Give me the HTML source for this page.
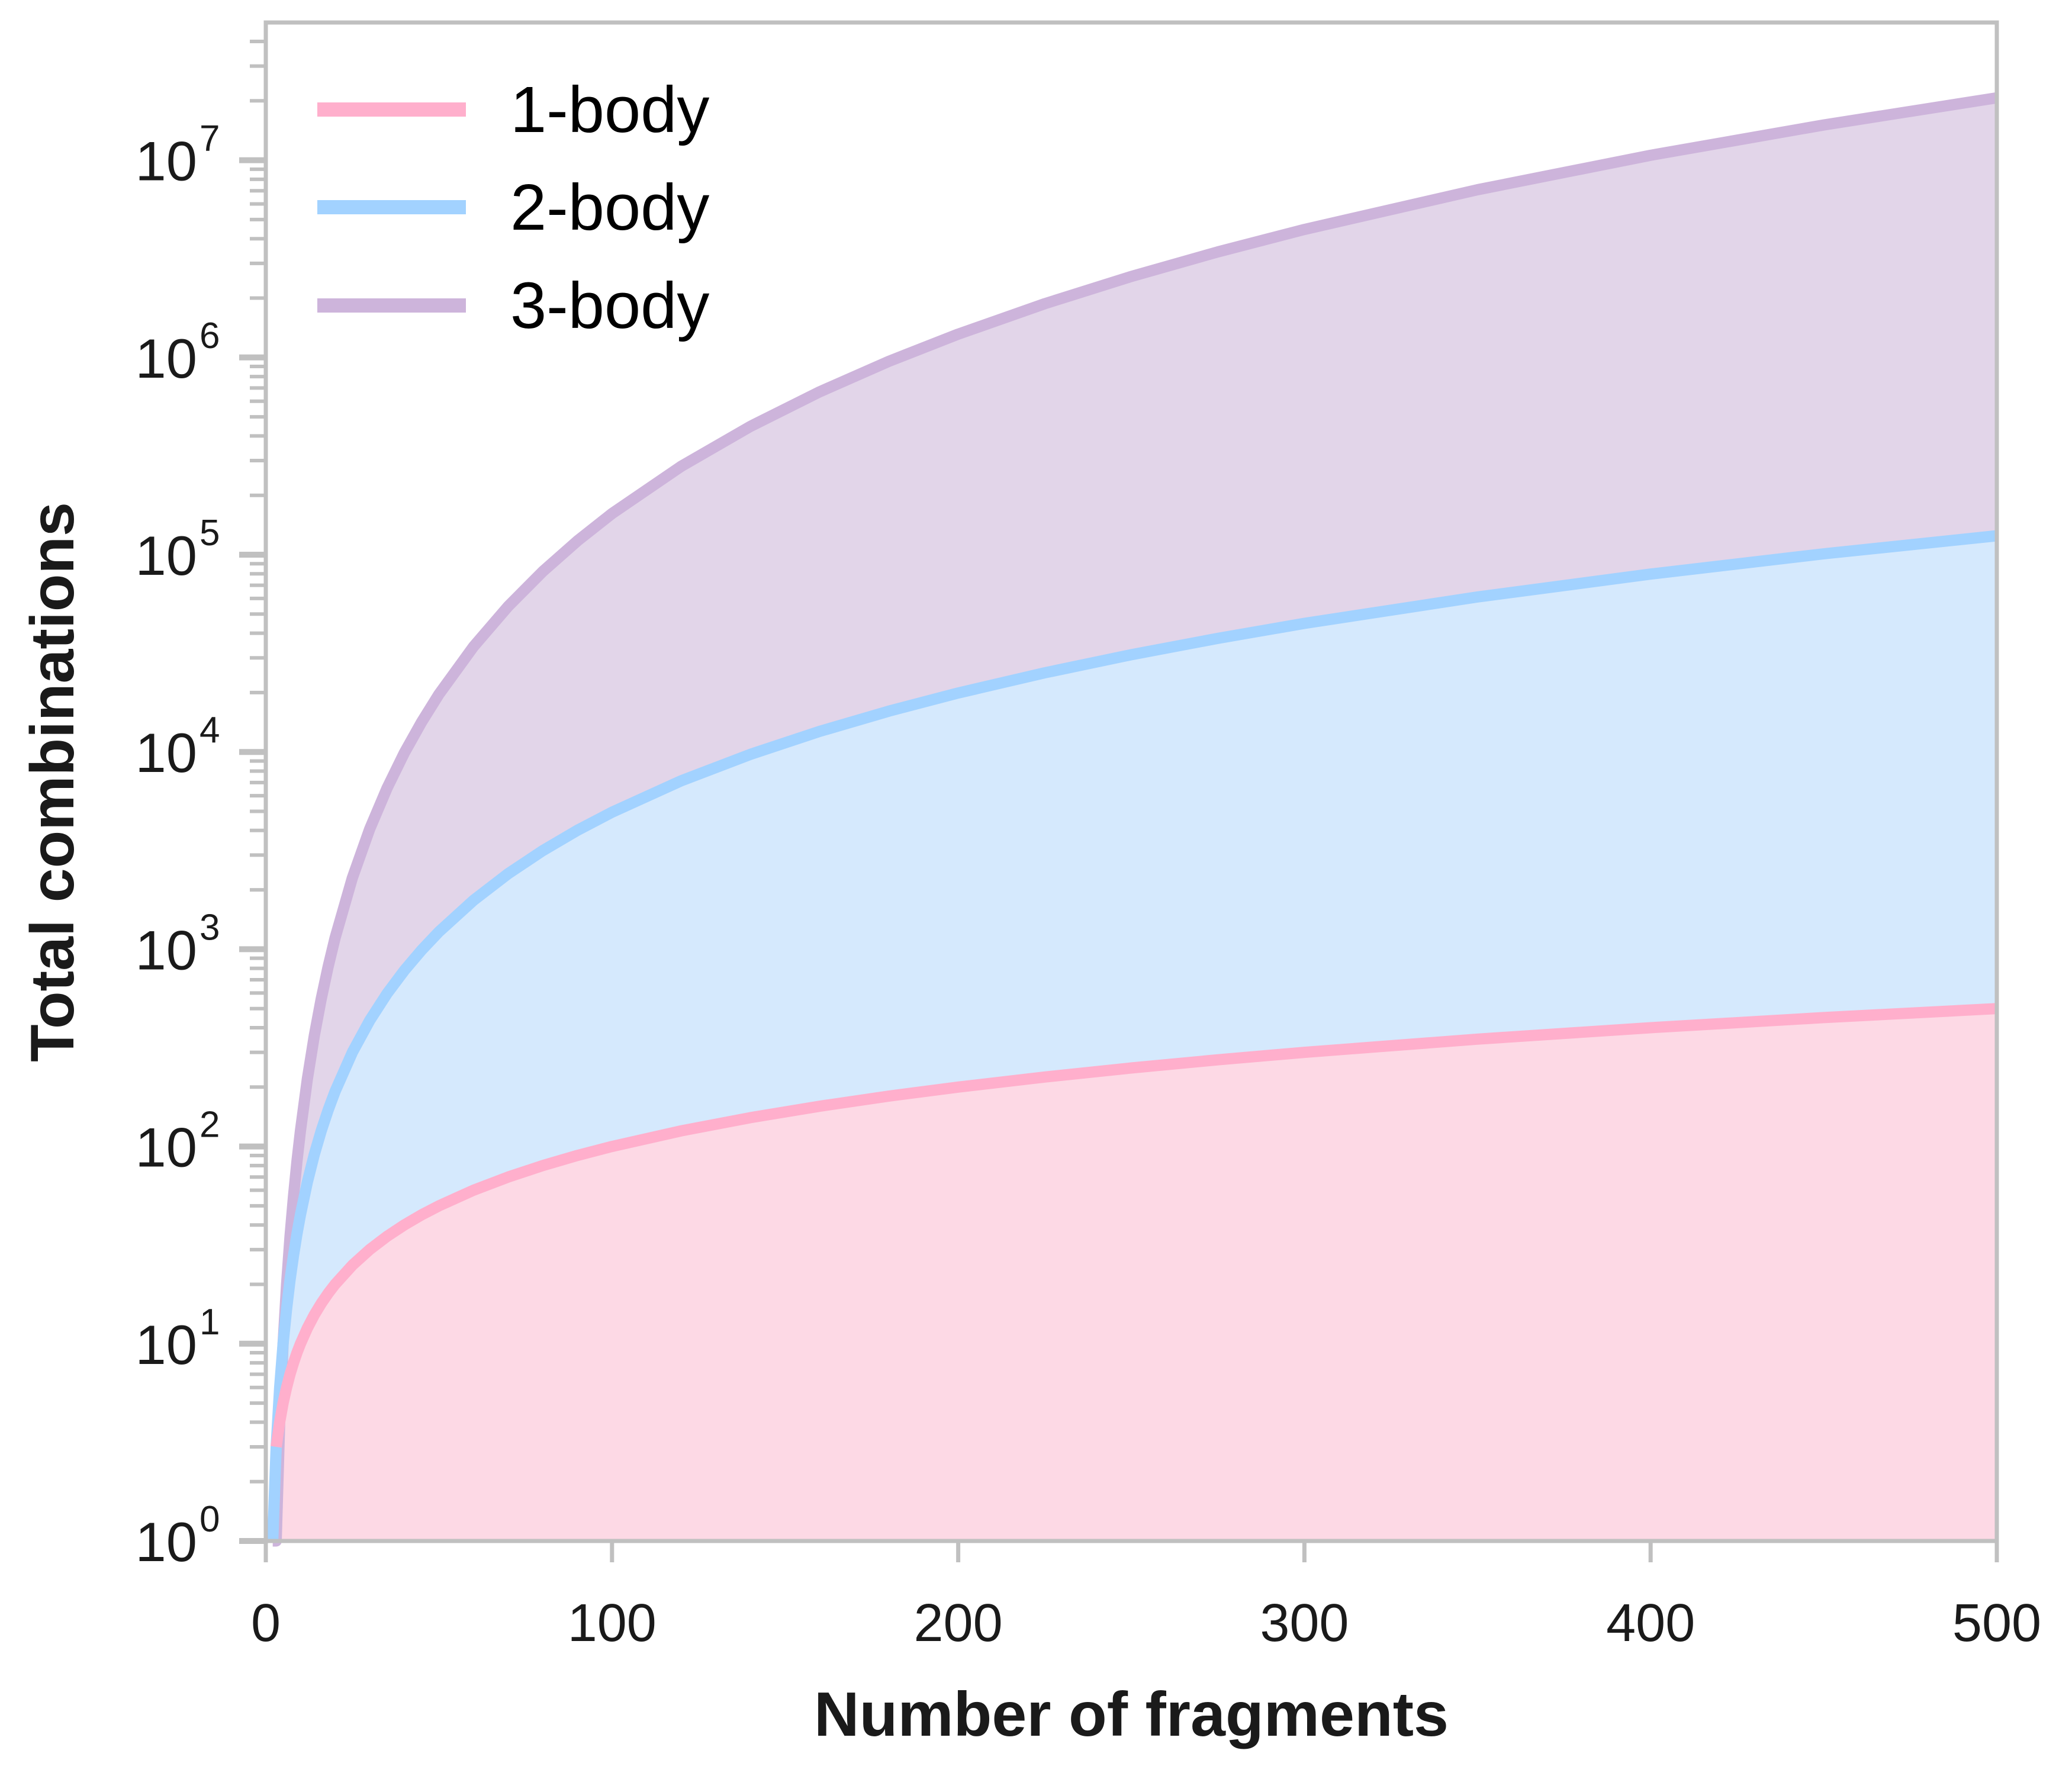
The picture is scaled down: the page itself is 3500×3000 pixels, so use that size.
<!DOCTYPE html>
<html><head><meta charset="utf-8"><style>
html,body{margin:0;padding:0;background:#fff;}
svg{display:block;font-family:"Liberation Sans",sans-serif;}
</style></head><body>
<svg id="chart" width="3500" height="3000" viewBox="0 0 3500 3000" xmlns="http://www.w3.org/2000/svg"></svg>
<script>
const fragments = [2,3,4,5,6,7,8,9,10,12,14,16,18,20,25,30,35,40,45,50,60,70,80,90,100,120,140,160,180,200,225,250,275,300,350,400,450,500];
const oneBody = [2,3,4,5,6,7,8,9,10,12,14,16,18,20,25,30,35,40,45,50,60,70,80,90,100,120,140,160,180,200,225,250,275,300,350,400,450,500];
const twoBody = [1,3,6,10,15,21,28,36,45,66,91,120,153,190,300,435,595,780,990,1225,1770,2415,3160,4005,4950,7140,9730,12720,16110,19900,25200,31125,37675,44850,61075,79800,101025,124750];
const threeBody = [1,1,4,10,20,35,56,84,120,220,364,560,816,1140,2300,4060,6545,9880,14190,19600,34220,54740,82160,117480,161700,280840,447440,669920,955860,1313400,1873200,2573000,3428425,4455100,7084700,10586800,15086100,20708500];
const xTicks = [0,100,200,300,400,500];
const yTickExps = [0,1,2,3,4,5,6,7];
const seriesNames = ['1-body','2-body','3-body'];

const L=449,R=3373,T=38,B=2603,DEC=333.2;
const xs=v=>L+(v/500)*(R-L);
const ys=v=>B-Math.log10(v)*DEC;
const NS='http://www.w3.org/2000/svg';
const svg=document.getElementById('chart');
function mk(tag,attrs,parent){const e=document.createElementNS(NS,tag);for(const k in attrs)e.setAttribute(k,attrs[k]);(parent||svg).appendChild(e);return e;}

const series=[
 {vals:threeBody,line:'#cdb4db',fill:'#e2d5e9',name:'3-body'},
 {vals:twoBody,line:'#a2d2ff',fill:'#d5e9fd',name:'2-body'},
 {vals:oneBody,line:'#ffafcc',fill:'#fdd9e5',name:'1-body'}
];
series.forEach(s=>{
  let d='M'+xs(fragments[0])+','+B;
  fragments.forEach((f,i)=>{d+=' L'+xs(f).toFixed(1)+','+ys(Math.max(1,s.vals[i])).toFixed(1);});
  d+=' L'+xs(fragments[fragments.length-1])+','+B+' Z';
  const a=mk('path',{d:d,fill:s.fill});
  
  
});
series.forEach(s=>{
  let pts=[];
  fragments.forEach((f,i)=>{ if(s.name==='1-body'&&f<3)return; pts.push(xs(f).toFixed(1)+','+ys(Math.max(1,s.vals[i])).toFixed(1));});
  const p=mk('polyline',{points:pts.join(' '),fill:'none',stroke:s.line,'stroke-width':19,'stroke-linejoin':'round'});
  
  
});

const sp=mk('rect',{x:L,y:T,width:R-L,height:B-T,fill:'none',stroke:'#c0c0c0','stroke-width':7});



yTickExps.forEach(e=>{
  const y=ys(Math.pow(10,e));
  const t=mk('line',{x1:L-45,x2:L,y1:y,y2:y,stroke:'#c0c0c0','stroke-width':10});
  
  
  const tx=mk('text',{x:333,y:y+34,'text-anchor':'end','font-size':94,fill:'#1a1a1a'});
  
  
  tx.textContent='10';
  const sup=mk('text',{x:337,y:y-16,'text-anchor':'start','font-size':62,fill:'#1a1a1a'});
  
  
  sup.textContent=String(e);
  for(let m=2;m<=9;m++){
    const v=m*Math.pow(10,e);const yy=ys(v);
    if(yy<T)continue;
    const mt=mk('line',{x1:L-27,x2:L,y1:yy,y2:yy,stroke:'#c0c0c0','stroke-width':6});
    
    
  }
});
xTicks.forEach(v=>{
  const x=xs(v);
  const t=mk('line',{x1:x,x2:x,y1:B,y2:B+36,stroke:'#c0c0c0','stroke-width':7});
  
  
  const tx=mk('text',{x:x,y:2772,'text-anchor':'middle','font-size':90,fill:'#1a1a1a'});
  
  
  tx.textContent=String(v);
});
const xt=mk('text',{x:1911,y:2932,'text-anchor':'middle','font-size':106,'font-weight':'bold',fill:'#1a1a1a'});


xt.textContent='Number of fragments';
const yt=mk('text',{x:0,y:0,'text-anchor':'middle','font-size':104,'font-weight':'bold',fill:'#1a1a1a',transform:'translate(124,1321) rotate(-90)'});


yt.textContent='Total combinations';

const legCols=['#ffafcc','#a2d2ff','#cdb4db'];
const legY=[185,350,516];
seriesNames.forEach((n,i)=>{
  const g=mk('g',{});
  
  
  mk('line',{x1:536,x2:787,y1:legY[i],y2:legY[i],stroke:legCols[i],'stroke-width':24},g);
  const t=mk('text',{x:862,y:legY[i]+38,'font-size':110,fill:'#000'},g);
  t.textContent=n;
});
</script>
</body></html>
